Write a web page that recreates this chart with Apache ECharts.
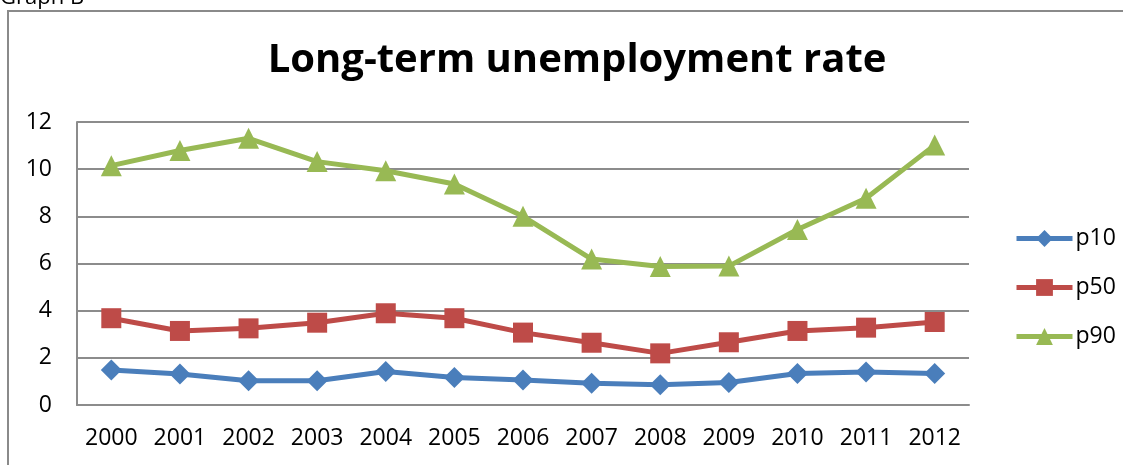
<!DOCTYPE html>
<html>
<head>
<meta charset="utf-8">
<script src="https://cdn.jsdelivr.net/npm/echarts@6/dist/echarts.min.js"></script>
<style>
  html, body { margin: 0; padding: 0; background: #fff; }
  #chart { width: 1123px; height: 465px; }
</style>
</head>
<body>
<div id="chart"></div>
<script>
// Years on the horizontal axis
const years = ['2000','2001','2002','2003','2004','2005','2006','2007','2008','2009','2010','2011','2012'];

// Long-term unemployment rate by percentile
const p10 = [1.48, 1.31, 1.03, 1.03, 1.42, 1.17, 1.06, 0.92, 0.86, 0.95, 1.34, 1.40, 1.34];
const p50 = [3.68, 3.14, 3.25, 3.49, 3.89, 3.68, 3.07, 2.64, 2.19, 2.66, 3.14, 3.28, 3.52];
const p90 = [10.15, 10.79, 11.31, 10.32, 9.93, 9.37, 8.00, 6.19, 5.87, 5.89, 7.44, 8.77, 11.02];

const yTicks = { min: 0, max: 12, interval: 2 };

const FONT = 'Open Sans, Noto Sans, sans-serif';
const GRID_GREY = '#8c8c8c';
const LINE_W = 5;

const chart = echarts.init(document.getElementById('chart'), null, { renderer: 'canvas' });

function lineSeries(name, data, color, symbol, size) {
  return {
    name: name,
    type: 'line',
    data: data,
    symbol: symbol,
    symbolSize: size,
    showSymbol: true,
    lineStyle: { color: color, width: LINE_W },
    itemStyle: { color: color },
    animation: false
  };
}

chart.setOption({
  animation: false,
  backgroundColor: '#ffffff',
  title: {
    text: 'Long-term unemployment rate',
    left: 572,
    textAlign: 'center',
    top: 36,
    textStyle: { fontFamily: FONT, fontWeight: 'bold', fontSize: 40, color: '#000' }
  },
  graphic: [
    {
      type: 'rect',
      shape: { x: 8, y: 11, width: 1130, height: 470 },
      style: { fill: 'none', stroke: '#8a8a8a', lineWidth: 2 },
      silent: true
    },
    {
      type: 'text',
      left: 0,
      top: -13,
      style: { text: 'Graph B', fontSize: 22, fontFamily: FONT, fill: '#000' },
      silent: true
    }
  ],
  legend: {
    orient: 'vertical',
    left: 1009,
    top: 222,
    itemWidth: 56,
    itemHeight: 21,
    itemGap: 26,
    lineStyle: { width: LINE_W },
    textStyle: { fontFamily: FONT, fontSize: 23, color: '#000', padding: [0, 0, 0, -2] },
    data: ['p10', 'p50', 'p90']
  },
  grid: { left: 77, right: 154, top: 122, bottom: 60, containLabel: false },
  xAxis: {
    type: 'category',
    data: years,
    boundaryGap: true,
    axisLine: { show: true, lineStyle: { color: GRID_GREY, width: 2 } },
    axisTick: { show: false },
    axisLabel: { fontFamily: FONT, fontSize: 23, color: '#000', margin: 22 },
    splitLine: { show: false }
  },
  yAxis: {
    type: 'value',
    min: yTicks.min,
    max: yTicks.max,
    interval: yTicks.interval,
    axisLine: { show: true, lineStyle: { color: GRID_GREY, width: 2 } },
    axisTick: { show: false },
    axisLabel: { fontFamily: FONT, fontSize: 23, color: '#000', margin: 25 },
    splitLine: { show: true, lineStyle: { color: GRID_GREY, width: 2 } }
  },
  series: [
    lineSeries('p10', p10, '#4a7ebb', 'diamond', 21),
    lineSeries('p50', p50, '#be4b48', 'rect', 20),
    lineSeries('p90', p90, '#98b954', 'triangle', 21)
  ]
});
</script>
</body>
</html>
